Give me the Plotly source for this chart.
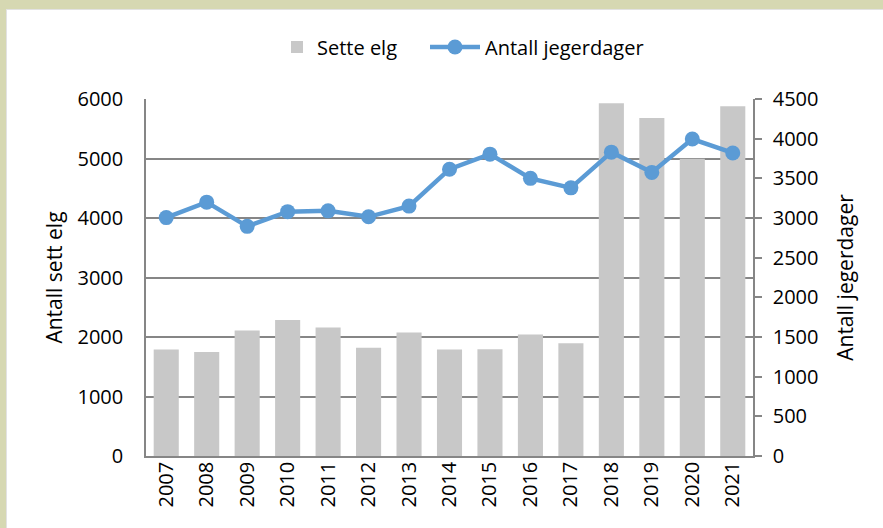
import plotly.graph_objects as go

years = ["2007", "2008", "2009", "2010", "2011", "2012", "2013", "2014",
         "2015", "2016", "2017", "2018", "2019", "2020", "2021"]
sett_elg = [1790, 1750, 2110, 2285, 2160, 1820, 2075, 1790,
            1795, 2040, 1895, 5930, 5680, 4995, 5880]
jegerdager = [3005, 3200, 2895, 3080, 3090, 3015, 3150, 3615,
              3805, 3500, 3380, 3830, 3575, 3995, 3820]

FONT = "Open Sans"
GRID = "#868686"
W, H = 883, 528
L, R, T, B = 146, 130, 99, 72
pw, ph = W - L - R, H - T - B


def px_x(p):
    return (p - L) / pw


def px_y(p):
    return (H - B - p) / ph


fig = go.Figure()
fig.add_trace(go.Bar(
    x=years, y=sett_elg, name="Sette elg",
    marker=dict(color="#c8c8c8", line=dict(width=0)),
    yaxis="y", legend="legend",
))
fig.add_trace(go.Scatter(
    x=years, y=jegerdager, name="Antall jegerdager",
    mode="lines+markers",
    line=dict(color="#5b9bd5", width=4.5),
    marker=dict(color="#5b9bd5", size=15),
    yaxis="y2", legend="legend2",
))

fig.update_layout(
    width=W, height=H,
    margin=dict(l=L, r=R, t=T, b=B, autoexpand=False),
    paper_bgcolor="white", plot_bgcolor="white",
    font=dict(family=FONT, size=20, color="black"),
    bargap=0.38,
    showlegend=True,
    legend=dict(orientation="h", x=px_x(277), xanchor="left",
                y=px_y(47), yanchor="middle",
                font=dict(size=20), itemwidth=30,
                bgcolor="rgba(0,0,0,0)"),
    legend2=dict(orientation="h", x=px_x(425), xanchor="left",
                 y=px_y(47), yanchor="middle",
                 font=dict(size=20), itemwidth=50,
                 bgcolor="rgba(0,0,0,0)"),
    xaxis=dict(type="category", range=[-0.5, len(years) - 0.5],
               tickangle=-90, showline=True,
               linecolor=GRID, linewidth=1.5, ticks="", showgrid=False,
               ticklabelstandoff=-4, tickfont=dict(size=20)),
    yaxis=dict(range=[0, 6000], dtick=1000, showgrid=True,
               gridcolor=GRID, gridwidth=1.5, showline=True,
               linecolor=GRID, linewidth=1.5, ticks="", zeroline=False,
               ticklabelstandoff=17, tickfont=dict(size=20),
               title=dict(text="Antall sett elg", standoff=9,
                          font=dict(size=21))),
    yaxis2=dict(range=[0, 4500], dtick=500, overlaying="y", side="right",
                showgrid=False, showline=True, linecolor=GRID,
                linewidth=1.5, ticks="outside", ticklen=7,
                tickcolor=GRID, tickwidth=1.5, zeroline=False,
                ticklabelstandoff=7, tickfont=dict(size=20),
                title=dict(text="Antall jegerdager", standoff=21,
                           font=dict(size=21))),
)

OLIVE = "#d6d8b2"
shapes = [
    dict(type="rect", xref="paper", yref="paper",
         x0=px_x(0), x1=px_x(W + 2), y0=px_y(9), y1=px_y(-2),
         fillcolor=OLIVE, line=dict(width=0), layer="below"),
    dict(type="rect", xref="paper", yref="paper",
         x0=px_x(-2), x1=px_x(6), y0=px_y(H + 2), y1=px_y(-2),
         fillcolor=OLIVE, line=dict(width=0), layer="below"),
    dict(type="line", xref="paper", yref="paper",
         x0=px_x(6), x1=px_x(W + 2), y0=px_y(9.5), y1=px_y(9.5),
         line=dict(color="#e2e2e2", width=1), layer="below"),
    dict(type="line", xref="paper", yref="paper",
         x0=px_x(6.5), x1=px_x(6.5), y0=px_y(9), y1=px_y(H + 2),
         line=dict(color="#e2e2e2", width=1), layer="below"),
]
fig.update_layout(shapes=shapes)

fig.write_html(
    "out.html",
    config={"displayModeBar": False},
    post_script="document.body.style.margin='0';document.body.style.overflow='hidden';",
)
